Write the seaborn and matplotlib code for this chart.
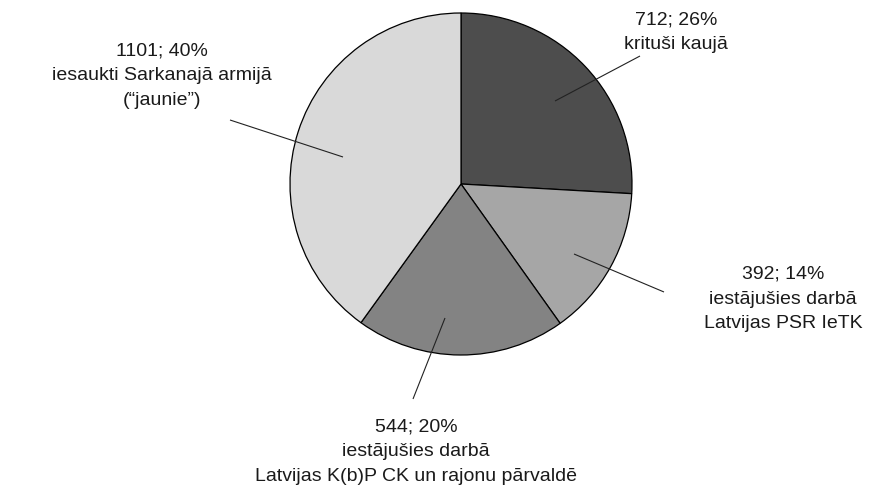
import matplotlib
matplotlib.use("Agg")
import matplotlib.pyplot as plt
import seaborn as sns

# ---- data ----
values = [712, 392, 544, 1101]
percents = ["26%", "14%", "20%", "40%"]
descriptions = [
    "krituši kaujā",
    "iestājušies darbā\nLatvijas PSR IeTK",
    "iestājušies darbā\nLatvijas K(b)P CK un rajonu pārvaldē",
    "iesaukti Sarkanajā armijā\n(“jaunie”)",
]
colors = ["#4d4d4d", "#a6a6a6", "#838383", "#d9d9d9"]

sns.set_theme(style="white")
plt.rcParams["font.family"] = ["Liberation Sans Narrow", "Arial Narrow", "Liberation Sans", "DejaVu Sans"]

W, H = 877, 500
fig = plt.figure(figsize=(W / 100, H / 100), dpi=100)
ax = fig.add_axes([0, 0, 1, 1])

cx, cy, R = 461, H - 184, 171
ax.pie(values, colors=colors, startangle=90, counterclock=False,
       center=(cx, cy), radius=R, frame=True,
       wedgeprops=dict(edgecolor="black", linewidth=0.9))
ax.set_xlim(0, W)
ax.set_ylim(0, H)
ax.set_aspect("equal")
ax.axis("off")

# label layout (pixel positions, top-left origin): text center, line inner, line outer
layout = [
    ((676, 32), (555, 101), (640, 56)),
    ((783, 299), (574, 254), (664, 292)),
    ((416, 452), (445, 318), (413, 399)),
    ((162, 76), (343, 157), (230, 120)),
]

for v, p, d, (tpos, inner, outer) in zip(values, percents, descriptions, layout):
    ax.plot([inner[0], outer[0]], [H - inner[1], H - outer[1]],
            color="#222222", linewidth=0.8, solid_capstyle="butt")
    ax.text(tpos[0], H - tpos[1], f"{v}; {p}\n{d}", ha="center", va="center",
            fontsize=14, color="#1a1a1a", linespacing=1.6)

fig.savefig("out.png", dpi=100, facecolor="white")
